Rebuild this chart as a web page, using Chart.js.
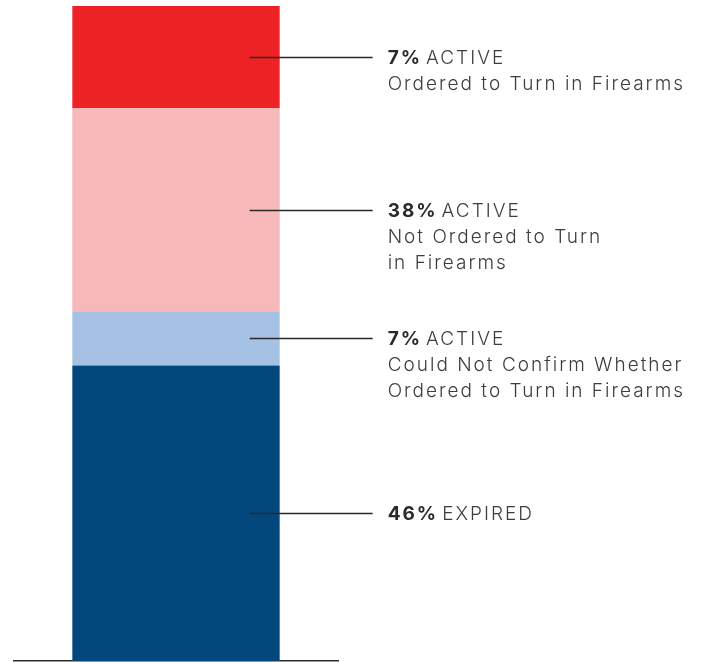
<!DOCTYPE html>
<html>
<head>
<meta charset="utf-8">
<script src="https://cdn.jsdelivr.net/npm/chart.js@4"></script>
<style>
  html, body { margin: 0; padding: 0; background: #ffffff; }
  #wrap { width: 706px; height: 662px; position: relative; }
</style>
</head>
<body>
<div id="wrap"><canvas id="c" width="706" height="662"></canvas></div>
<script>
// ---- data ----
const categories = ['Protective orders'];
// bottom to top
const statusWords = ['EXPIRED', 'ACTIVE', 'ACTIVE', 'ACTIVE'];
const printedPercents = [46, 7, 38, 7];
const detailLines = [
  [],
  ['Could Not Confirm Whether', 'Ordered to Turn in Firearms'],
  ['Not Ordered to Turn', 'in Firearms'],
  ['Ordered to Turn in Firearms']
];
// share of the bar's height each segment takes as drawn in the graphic
const drawnShares = [45.1, 8.3, 31.0, 15.6];
const segmentColors = ['#02487D', '#A5C2E5', '#F6B8B8', '#ED2224'];

const FONT = 'Inter, "Open Sans", sans-serif';

const leaderPlugin = {
  id: 'leaders',
  afterDatasetsDraw(chart) {
    const ctx = chart.ctx;
    ctx.save();
    chart.data.datasets.forEach((ds, i) => {
      const bar = chart.getDatasetMeta(i).data[0];
      if (!bar) return;
      const yc = Math.round((bar.y + bar.base) / 2) + 0.5;
      const right = bar.x + bar.width / 2;
      const x0 = right - 30;
      const x1 = right + 93;
      ctx.strokeStyle = '#2b2b2b';
      ctx.lineWidth = 1.3;
      ctx.beginPath();
      ctx.moveTo(x0, yc);
      ctx.lineTo(x1, yc);
      ctx.stroke();

      const tx = right + 108;
      let by = yc + 6;
      ctx.textBaseline = 'alphabetic';
      ctx.textAlign = 'left';
      ctx.letterSpacing = '2px';
      ctx.fillStyle = '#2a2a2a';
      ctx.font = '700 19px ' + FONT;
      const pct = printedPercents[i] + '%';
      ctx.fillText(pct, tx, by);
      const w = ctx.measureText(pct).width;
      ctx.fillStyle = '#3d3d3d';
      ctx.font = '300 19px ' + FONT;
      ctx.fillText(statusWords[i], tx + w + 4, by);
      detailLines[i].forEach(line => {
        by += 26;
        ctx.fillText(line, tx, by);
      });
    });
    ctx.restore();
  }
};

new Chart(document.getElementById('c'), {
  type: 'bar',
  data: {
    labels: categories,
    datasets: drawnShares.map((v, i) => ({
      label: statusWords[i] + ' ' + printedPercents[i] + '%',
      data: [v],
      backgroundColor: segmentColors[i],
      borderWidth: 0,
      categoryPercentage: 1,
      barPercentage: 0.64
    }))
  },
  options: {
    responsive: false,
    animation: false,
    events: [],
    layout: { padding: { left: 14, right: 368, top: 6, bottom: 1 } },
    plugins: { legend: { display: false }, tooltip: { enabled: false } },
    scales: {
      x: {
        stacked: true,
        grid: { display: false },
        ticks: { display: false },
        border: { display: true, color: '#2b2b2b', width: 1.5 },
        afterFit: (scale) => { scale.height = 0; }
      },
      y: {
        stacked: true,
        display: false,
        min: 0,
        max: 100
      }
    }
  },
  plugins: [leaderPlugin]
});
</script>
</body>
</html>
